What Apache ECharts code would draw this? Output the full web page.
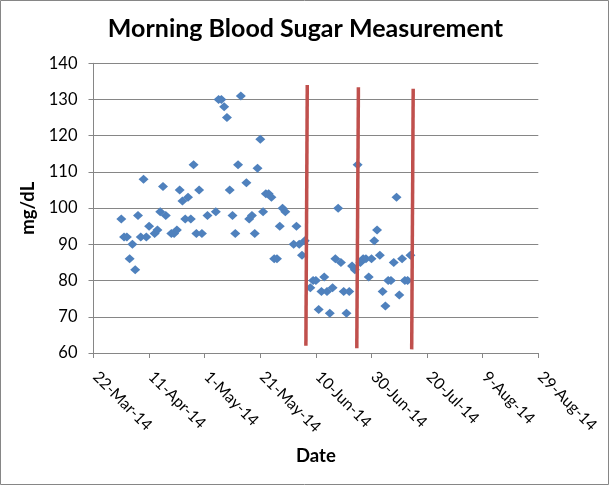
<!DOCTYPE html>
<html>
<head>
<meta charset="utf-8">
<script src="https://cdn.jsdelivr.net/npm/echarts@6/dist/echarts.min.js"></script>
<style>
html,body{margin:0;padding:0;background:#fff;}
#c{width:611px;height:487px;}
</style>
</head>
<body>
<div id="c"></div>
<script>
// ---- data ----
const baseDate = '2014-03-22';
const dates = [
 '2014-04-01','2014-04-02','2014-04-03','2014-04-04','2014-04-05','2014-04-06','2014-04-07','2014-04-08','2014-04-09','2014-04-10',
 '2014-04-11','2014-04-13','2014-04-14','2014-04-15','2014-04-16','2014-04-17','2014-04-19','2014-04-20','2014-04-21','2014-04-22',
 '2014-04-23','2014-04-24','2014-04-25','2014-04-26','2014-04-27','2014-04-28','2014-04-29','2014-04-30','2014-05-02','2014-05-05',
 '2014-05-06','2014-05-07','2014-05-08','2014-05-09','2014-05-10','2014-05-11','2014-05-12','2014-05-13','2014-05-14','2014-05-16',
 '2014-05-17','2014-05-18','2014-05-19','2014-05-20','2014-05-21','2014-05-22','2014-05-23','2014-05-24','2014-05-25','2014-05-26',
 '2014-05-27','2014-05-28','2014-05-29','2014-05-30','2014-06-02','2014-06-03','2014-06-04','2014-06-05','2014-06-06','2014-06-08',
 '2014-06-09','2014-06-10','2014-06-11','2014-06-12','2014-06-13','2014-06-14','2014-06-15','2014-06-16','2014-06-17','2014-06-18',
 '2014-06-19','2014-06-20','2014-06-21','2014-06-22','2014-06-23','2014-06-24','2014-06-25','2014-06-26','2014-06-27','2014-06-28',
 '2014-06-29','2014-06-30','2014-07-01','2014-07-02','2014-07-03','2014-07-04','2014-07-05','2014-07-06','2014-07-07','2014-07-08',
 '2014-07-09','2014-07-10','2014-07-11','2014-07-12','2014-07-13','2014-07-14'
];
const sugar = [
 97,92,92,86,90,83,98,92,108,92,
 95,93,94,99,106,98,93,93,94,105,
 102,97,103,97,112,93,105,93,98,99,
 130,130,128,125,105,98,93,112,131,107,
 97,98,93,111,119,99,104,104,103,86,
 86,95,100,99,90,95,90,87,91,78,
 80,80,72,77,81,77,71,78,86,100,
 85,77,71,77,84,83,112,85,86,86,
 81,86,91,94,87,77,73,80,80,85,
 103,76,86,80,80,87
];
// red marker lines drawn on the chart: top and bottom ends
const markLineTops    = ['2014-06-06T21:30','2014-06-25T07:00','2014-07-15T00:00'];
const markLineTopVals = [134, 133.4, 133];
const markLineBots    = ['2014-06-06T09:30','2014-06-24T17:00','2014-07-14T11:00'];
const markLineBotVals = [62, 61.3, 61];

const xMin = 0, xMax = 160, xStep = 20;     // days from 22-Mar-14
const yMin = 60, yMax = 140, yStep = 10;
const titleText = 'Morning Blood Sugar Measurement';
const xName = 'Date', yName = 'mg/dL';
const months = ['Jan','Feb','Mar','Apr','May','Jun','Jul','Aug','Sep','Oct','Nov','Dec'];

function toMs(s){ return Date.parse(s.length === 10 ? s + 'T00:00:00Z' : s + ':00Z'); }
const base = toMs(baseDate);
function toDay(s){ return (toMs(s) - base) / 864e5; }
function fmt(v){
  const d = new Date(base + v * 864e5);
  return d.getUTCDate() + '-' + months[d.getUTCMonth()] + '-' + String(d.getUTCFullYear()).slice(2);
}

const points = dates.map((d, i) => [toDay(d), sugar[i]]);
const FONT = 'Lato, "Open Sans", sans-serif';

const lineSeries = markLineTops.map((t, i) => ({
  type: 'line',
  data: [[toDay(t), markLineTopVals[i]], [toDay(markLineBots[i]), markLineBotVals[i]]],
  symbol: 'none',
  clip: false,
  silent: true,
  z: 10,
  lineStyle: { color: '#C0504D', width: 3.5, cap: 'butt' }
}));

const chart = echarts.init(document.getElementById('c'), null, { renderer: 'canvas' });
chart.setOption({
  animation: false,
  backgroundColor: '#fff',
  title: {
    text: titleText,
    left: 'center',
    top: 11,
    textStyle: { fontFamily: FONT, fontSize: 25, fontWeight: 'bold', color: '#000' }
  },
  graphic: [{
    type: 'rect',
    shape: { x: 0.5, y: 0.5, width: 608, height: 484 },
    style: { fill: null, stroke: '#868686', lineWidth: 1 },
    silent: true
  }],
  grid: { left: 93.5, right: 72.7, top: 63.3, bottom: 134 },
  xAxis: {
    type: 'value',
    min: xMin, max: xMax, interval: xStep,
    name: xName,
    nameLocation: 'middle',
    nameGap: 94,
    nameTextStyle: { fontFamily: FONT, fontSize: 18.5, fontWeight: 'bold', color: '#000' },
    axisLine: { show: true, onZero: false, lineStyle: { color: '#868686', width: 1 } },
    axisTick: { show: true, length: 5, lineStyle: { color: '#868686' } },
    splitLine: { show: false },
    axisLabel: {
      rotate: -45, margin: 19, padding: [0, 0, 0, 3],
      fontFamily: FONT, fontSize: 15.8, color: '#000',
      formatter: fmt,
      showMinLabel: true, showMaxLabel: true
    }
  },
  yAxis: {
    type: 'value',
    min: yMin, max: yMax, interval: yStep,
    name: yName,
    nameLocation: 'middle',
    nameGap: 49,
    nameTextStyle: { fontFamily: FONT, fontSize: 18.5, fontWeight: 'bold', color: '#000' },
    axisLine: { show: true, lineStyle: { color: '#868686', width: 1 } },
    axisTick: { show: true, length: 5, lineStyle: { color: '#868686' } },
    splitLine: { show: true, lineStyle: { color: '#868686', width: 1 } },
    axisLabel: { margin: 16, fontFamily: FONT, fontSize: 16.5, color: '#000' }
  },
  series: [{
    type: 'scatter',
    data: points,
    symbol: 'diamond',
    symbolSize: [10, 9],
    itemStyle: { color: '#4F81BD', opacity: 1 },
    z: 5
  }].concat(lineSeries)
});
</script>
</body>
</html>
